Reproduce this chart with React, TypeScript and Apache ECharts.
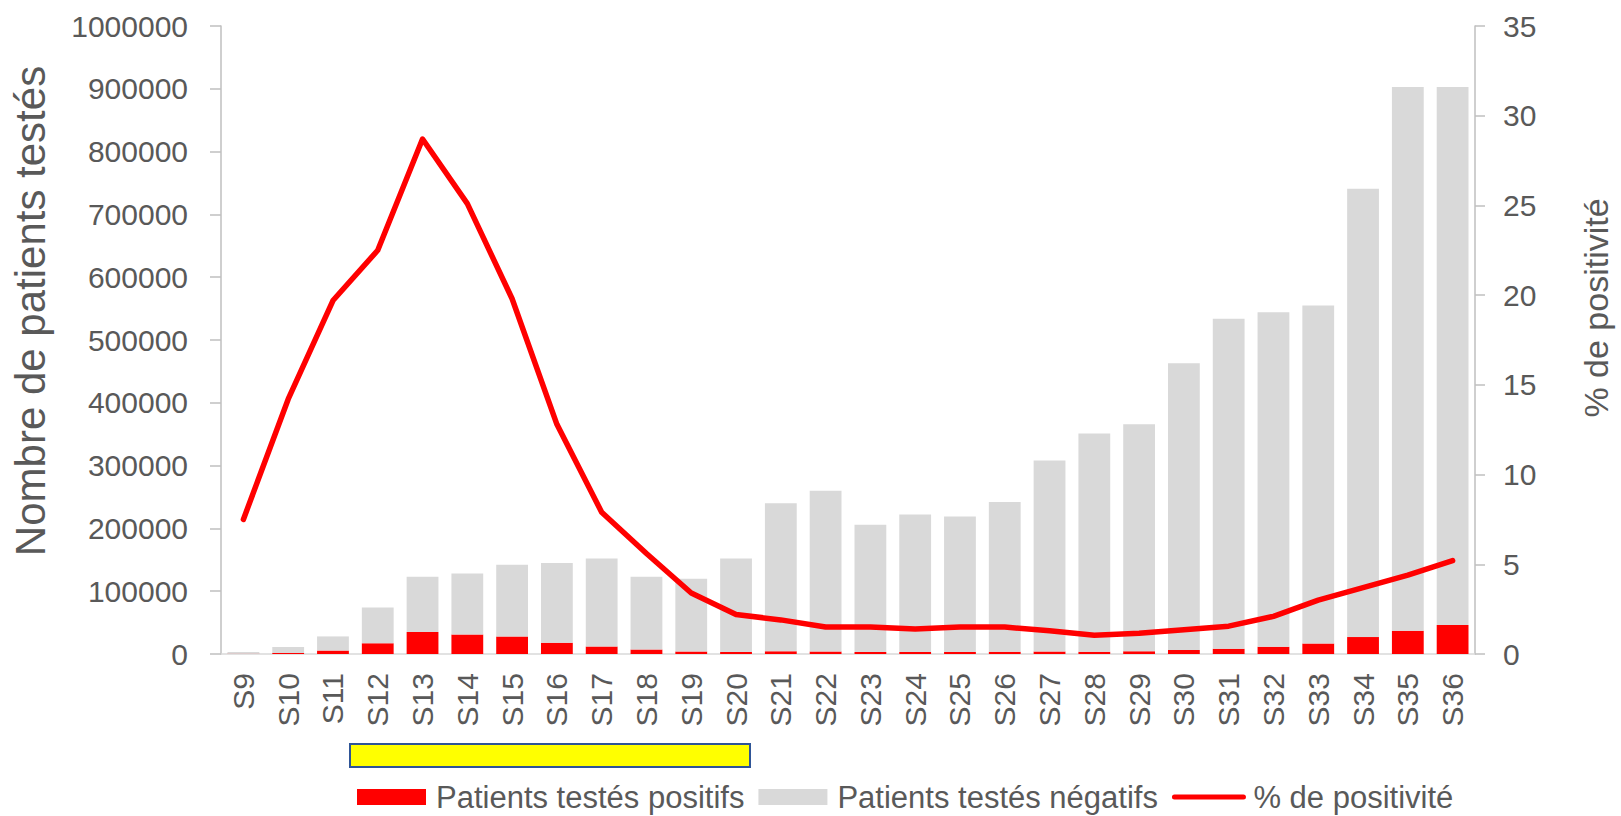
import React, { useEffect, useRef } from "react";
import * as echarts from "echarts";

const categories = ["S9","S10","S11","S12","S13","S14","S15","S16","S17","S18","S19","S20","S21","S22","S23","S24","S25","S26","S27","S28","S29","S30","S31","S32","S33","S34","S35","S36"];
const positifs = [230,1500,5500,17000,35000,31000,28000,18000,12000,7000,4000,3300,4500,3900,3100,3100,3300,3600,4000,3700,4200,6300,8300,11400,16600,27000,37000,46000];
const negatifs = [2800,9500,22500,57000,88000,97000,114000,127000,140000,116000,116000,148700,235500,256100,202900,218900,215700,238400,304000,347300,361800,456700,525700,532600,538400,714000,866000,857000];
const positivite = [7.5,14.2,19.7,22.5,28.7,25.1,19.8,12.8,7.9,5.6,3.4,2.2,1.9,1.5,1.5,1.4,1.5,1.5,1.3,1.05,1.15,1.35,1.55,2.1,3.0,3.7,4.4,5.2];

const FONT = "'Liberation Sans', Arial, sans-serif";
const TXT = "#595959";

export default function App() {
  const ref = useRef<HTMLDivElement>(null);
  useEffect(() => {
    document.body.style.margin = "0";
    if (!ref.current) return;
    const chart = echarts.init(ref.current, null, { renderer: "svg" });
    chart.setOption({
      animation: false,
      textStyle: { fontFamily: FONT },
      grid: { left: 221, right: 146, top: 26, bottom: 162, containLabel: false },
      legend: {
        left: 352,
        top: 776,
        itemWidth: 69,
        itemHeight: 16,
        itemGap: 14,
        textStyle: { fontFamily: FONT, fontSize: 31, lineHeight: 32, color: TXT, padding: [0, 0, 0, 5] },
        data: [
          { name: "Patients testés positifs", icon: "rect" },
          { name: "Patients testés négatifs", icon: "rect" },
          {
            name: "% de positivité",
            itemStyle: { color: "rgba(0,0,0,0)", borderWidth: 0, opacity: 0 },
            lineStyle: { color: "#ff0000", width: 5, cap: "round" },
          },
        ],
      },
      xAxis: {
        type: "category",
        data: categories,
        axisLine: { show: true, lineStyle: { color: "#d9d9d9", width: 1.5 } },
        axisTick: { show: false },
        axisLabel: { rotate: 90, fontSize: 30, color: TXT, margin: 19, fontFamily: FONT },
      },
      yAxis: [
        {
          type: "value",
          min: 0,
          max: 1000000,
          interval: 100000,
          splitLine: { show: false },
          axisLine: { show: true, lineStyle: { color: "#bfbfbf", width: 1.5 } },
          axisTick: { show: true, length: 11, lineStyle: { color: "#bfbfbf", width: 1.5 } },
          axisLabel: { fontSize: 30, color: TXT, margin: 33, fontFamily: FONT, formatter: (v: number) => String(v) },
        },
        {
          type: "value",
          min: 0,
          max: 35,
          interval: 5,
          position: "right",
          splitLine: { show: false },
          axisLine: { show: true, lineStyle: { color: "#bfbfbf", width: 1.5 } },
          axisTick: { show: true, length: 10, lineStyle: { color: "#bfbfbf", width: 1.5 } },
          axisLabel: { fontSize: 30, color: TXT, margin: 28, fontFamily: FONT, formatter: (v: number) => String(v) },
        },
      ],
      series: [
        {
          name: "Patients testés positifs",
          type: "bar",
          stack: "total",
          data: positifs,
          itemStyle: { color: "#ff0000" },
          barCategoryGap: "29%",
        },
        {
          name: "Patients testés négatifs",
          type: "bar",
          stack: "total",
          data: negatifs,
          itemStyle: { color: "#d9d9d9" },
          barCategoryGap: "29%",
        },
        {
          name: "% de positivité",
          type: "line",
          yAxisIndex: 1,
          data: positivite,
          symbol: "none",
          lineStyle: { color: "#ff0000", width: 5.5, cap: "round", join: "round" },
          itemStyle: { color: "#ff0000" },
        },
      ],
      graphic: [
        {
          type: "text",
          x: 30,
          y: 311,
          rotation: Math.PI / 2,
          style: {
            text: "Nombre de patients testés",
            fontSize: 42,
            fontFamily: FONT,
            fill: TXT,
            align: "center",
            verticalAlign: "middle",
          },
        },
        {
          type: "text",
          x: 1596,
          y: 308,
          rotation: Math.PI / 2,
          style: {
            text: "% de positivité",
            fontSize: 34,
            fontFamily: FONT,
            fill: TXT,
            align: "center",
            verticalAlign: "middle",
          },
        },
        {
          type: "rect",
          shape: { x: 350, y: 744, width: 400, height: 23 },
          style: { fill: "#ffff00", stroke: "#2f5597", lineWidth: 2 },
        },
      ],
    });
    return () => chart.dispose();
  }, []);
  return <div ref={ref} style={{ width: 1621, height: 816 }} />;
}
